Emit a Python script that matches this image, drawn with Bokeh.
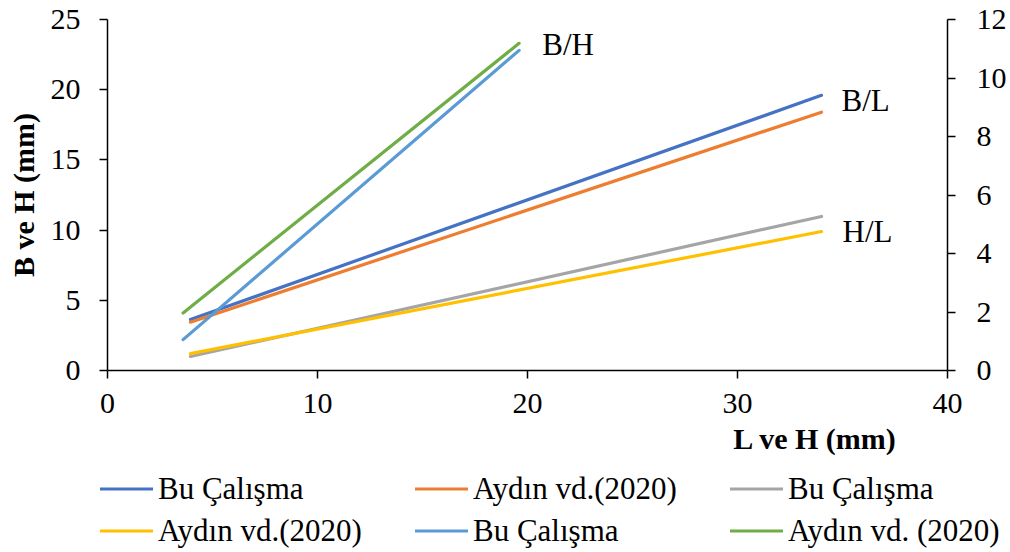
from bokeh.plotting import figure
from bokeh.models import (Range1d, LinearAxis, FixedTicker, Legend, LegendItem,
                          Label)
from bokeh.core.properties import value
from bokeh.embed import file_html
from bokeh.resources import INLINE

# ---- data ----
bl_x = [3.95, 34.0]          # L (mm) for B/L lines
bl_bu = [3.63, 19.6]         # Bu Çalışma  B/L
bl_aydin = [3.44, 18.4]      # Aydın vd. (2020) B/L
hl_x = [3.95, 34.0]          # L (mm) for H/L lines
hl_bu = [1.0, 10.97]         # Bu Çalışma  H/L
hl_aydin = [1.2, 9.9]        # Aydın vd. (2020) H/L
bh_x = [3.6, 19.6]           # H (mm) for B/H lines
bh_bu = [2.2, 22.8]          # Bu Çalışma  B/H
bh_aydin = [4.1, 23.3]       # Aydın vd. (2020) B/H

series_names = ["Bu Çalışma", "Aydın vd.(2020)", "Bu Çalışma",
                "Aydın vd.(2020)", "Bu Çalışma", "Aydın vd. (2020)"]
series_colors = ["#4472C4", "#ED7D31", "#A5A5A5", "#FFC000", "#5B9BD5", "#70AD47"]

x_ticks = [0, 10, 20, 30, 40]
y_ticks = [0, 5, 10, 15, 20, 25]
y2_ticks = [0, 2, 4, 6, 8, 10, 12]

group_labels = ["B/H", "B/L", "H/L"]
group_label_x = [20.7, 34.95, 35.0]
group_label_y = [23.2, 19.25, 9.9]

FONT = "Liberation Serif"

# ---- layout in pixels: plot area spans 107..947 (x) and 19..370 (y) ----
W, H = 1010, 552
PL, PR, PT, PB = 107, 947, 19, 370
X0, X1, Y0, Y1, R1 = 0, 40, 0, 25, 12
xs_ = (PR - PL) / (X1 - X0)
ys_ = (PB - PT) / (Y1 - Y0)
rs_ = (PB - PT) / R1

p = figure(width=W, height=H,
           x_range=Range1d(X0 - PL / xs_, X1 + (W - PR) / xs_),
           y_range=Range1d(Y0 - (H - PB) / ys_, Y1 + PT / ys_),
           output_backend="svg", toolbar_location=None,
           x_axis_location=None, y_axis_location=None, min_border=0,
           background_fill_color="white", border_fill_color="white",
           outline_line_color=None)
p.grid.visible = False
p.extra_y_ranges = {"right": Range1d(0 - (H - PB) / rs_, R1 + PT / rs_)}

xa = LinearAxis(fixed_location=0, bounds=(X0, X1), ticker=FixedTicker(ticks=x_ticks))
ya = LinearAxis(fixed_location=0, bounds=(Y0, Y1), ticker=FixedTicker(ticks=y_ticks))
ra = LinearAxis(y_range_name="right", fixed_location=40, bounds=(0, R1),
                ticker=FixedTicker(ticks=y2_ticks))
p.add_layout(xa, "below")
p.add_layout(ya, "left")
p.add_layout(ra, "right")

for ax in [xa, ya, ra]:
    ax.axis_line_color = "black"
    ax.axis_line_width = 1.5
    ax.major_tick_line_color = "black"
    ax.major_tick_line_width = 1.5
    ax.major_tick_in = 0
    ax.major_tick_out = 8
    ax.minor_tick_line_color = None
    ax.major_label_text_font = FONT
    ax.major_label_text_font_size = "30px"
    ax.major_label_text_color = "black"

xa.major_label_standoff = 15
ya.major_label_standoff = 19
ra.major_label_standoff = 21

ya.axis_label = "B ve H (mm)"
ya.axis_label_text_font = FONT
ya.axis_label_text_font_style = "bold"
ya.axis_label_text_font_size = "30px"
ya.axis_label_text_color = "black"
ya.axis_label_standoff = 8

xs_list = [bl_x, bl_x, hl_x, hl_x, bh_x, bh_x]
ys_list = [bl_bu, bl_aydin, hl_bu, hl_aydin, bh_bu, bh_aydin]

renderers = []
for xs, ys, c in zip(xs_list, ys_list, series_colors):
    renderers.append(p.line(xs, ys, line_color=c, line_width=3.2, line_cap="round"))

p.text(x=group_label_x, y=group_label_y, text=group_labels,
       text_font=value(FONT), text_font_size="31px", text_color="black",
       text_align="left", text_baseline="middle")

p.add_layout(Label(x=33.71, y=-4.84, text="L ve H (mm)", text_font=FONT,
                   text_font_style="bold", text_font_size="30px",
                   text_color="black", text_align="center",
                   text_baseline="middle"))

items = [LegendItem(label=n, renderers=[r]) for n, r in zip(series_names, renderers)]
legend = Legend(items=items, orientation="horizontal", ncols=3,
                location=(100, 3),
                glyph_width=53, glyph_height=37, label_height=37,
                label_width=252, label_standoff=5, spacing=5,
                padding=0, margin=0,
                border_line_color=None, background_fill_alpha=0,
                label_text_font=FONT, label_text_font_size="31px",
                label_text_color="black")
p.add_layout(legend, "center")

open("out.html", "w").write(file_html(p, INLINE))
